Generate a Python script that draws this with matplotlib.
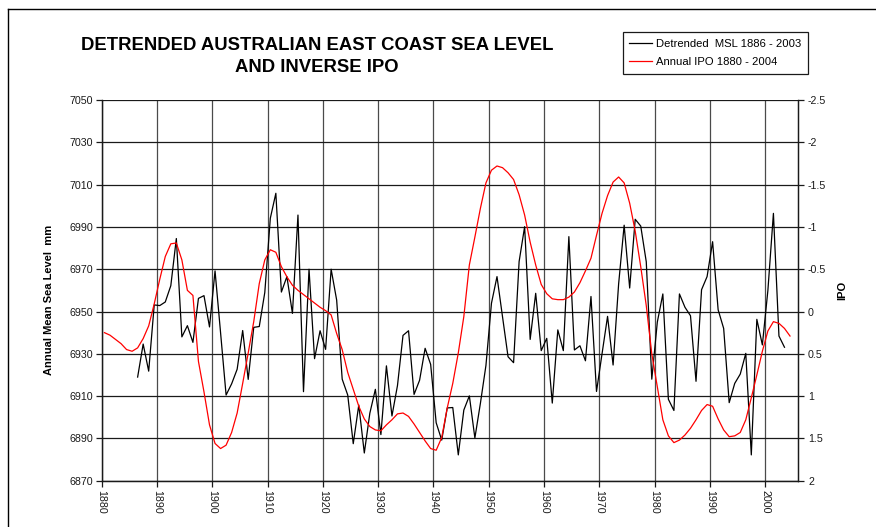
import matplotlib
matplotlib.use("Agg")
import matplotlib.pyplot as plt
from matplotlib.lines import Line2D
import numpy as np

plt.rcParams['font.family'] = ['Liberation Sans', 'DejaVu Sans']

# ---------------- data ----------------
msl_years = list(range(1886, 2004))
msl_values = [
    6919.0, 6934.6, 6921.8, 6953.1, 6952.8, 6954.5, 6962.2, 6984.5, 6938.0, 6943.3,  # 1886-1895
    6935.4, 6956.2, 6957.5, 6942.7, 6969.2, 6940.0, 6910.5, 6915.8, 6922.7, 6941.0,  # 1896-1905
    6917.9, 6942.5, 6942.9, 6959.0, 6994.1, 7005.9, 6959.2, 6966.5, 6949.1, 6995.6,  # 1906-1915
    6912.1, 6970.0, 6927.7, 6940.9, 6932.1, 6970.0, 6955.4, 6918.0, 6910.5, 6887.5,  # 1916-1925
    6905.8, 6883.1, 6901.9, 6913.2, 6891.8, 6924.3, 6900.6, 6915.0, 6938.7, 6940.9,  # 1926-1935
    6910.8, 6917.5, 6932.6, 6925.0, 6897.4, 6889.2, 6904.4, 6904.6, 6882.2, 6903.4,  # 1936-1945
    6910.1, 6890.2, 6906.6, 6924.5, 6953.9, 6966.5, 6947.5, 6928.6, 6925.8, 6973.6,  # 1946-1955
    6990.1, 6936.8, 6958.6, 6931.5, 6937.3, 6906.7, 6941.3, 6931.5, 6985.4, 6931.8,  # 1956-1965
    6933.8, 6926.7, 6957.1, 6912.2, 6930.0, 6947.7, 6924.7, 6963.0, 6990.8, 6961.1,  # 1966-1975
    6993.6, 6990.4, 6973.5, 6918.0, 6945.0, 6958.3, 6908.5, 6903.2, 6958.3, 6952.0,  # 1976-1985
    6948.0, 6917.0, 6960.3, 6966.5, 6983.0, 6950.8, 6942.0, 6906.9, 6916.0, 6920.4,  # 1986-1995
    6930.2, 6882.2, 6946.3, 6934.2, 6960.0, 6996.4, 6938.4, 6933.1,                  # 1996-2003
]

ipo_years = list(range(1880, 2005))
ipo_values = [
    0.25, 0.28, 0.33, 0.38, 0.45, 0.47, 0.43, 0.32, 0.17, -0.09,      # 1880-1889
    -0.38, -0.65, -0.80, -0.81, -0.61, -0.25, -0.19, 0.59, 0.95, 1.34,  # 1890-1899
    1.56, 1.62, 1.58, 1.43, 1.20, 0.85, 0.49, 0.12, -0.33, -0.61,      # 1900-1909
    -0.73, -0.70, -0.53, -0.41, -0.31, -0.25, -0.20, -0.15, -0.10, -0.05,  # 1910-1919
    -0.01, 0.04, 0.26, 0.45, 0.72, 0.92, 1.12, 1.27, 1.36, 1.40,      # 1920-1929
    1.41, 1.34, 1.28, 1.21, 1.20, 1.24, 1.33, 1.43, 1.53, 1.62,      # 1930-1939
    1.64, 1.49, 1.14, 0.85, 0.49, 0.06, -0.55, -0.88, -1.22, -1.52,    # 1940-1949
    -1.67, -1.72, -1.70, -1.64, -1.56, -1.38, -1.14, -0.82, -0.55, -0.32,  # 1950-1959
    -0.21, -0.15, -0.14, -0.14, -0.17, -0.23, -0.34, -0.48, -0.63, -0.90,  # 1960-1969
    -1.16, -1.37, -1.53, -1.59, -1.52, -1.28, -0.95, -0.53, -0.07, 0.50,   # 1970-1979
    0.89, 1.28, 1.47, 1.55, 1.52, 1.46, 1.38, 1.28, 1.17, 1.10,      # 1980-1989
    1.12, 1.27, 1.40, 1.48, 1.47, 1.43, 1.28, 1.02, 0.75, 0.47,      # 1990-1999
    0.23, 0.12, 0.14, 0.20, 0.29,                                     # 2000-2004
]

x_tick_years = list(range(1880, 2001, 10))
left_ticks = list(range(6870, 7051, 20))
right_ticks = [-2.5, -2, -1.5, -1, -0.5, 0, 0.5, 1, 1.5, 2]
right_tick_labels = ["-2.5", "-2", "-1.5", "-1", "-0.5", "0", "0.5", "1", "1.5", "2"]

title_line1 = "DETRENDED AUSTRALIAN EAST COAST SEA LEVEL"
title_line2 = "AND INVERSE IPO"
msl_label = "Detrended  MSL 1886 - 2003"
ipo_label = "Annual IPO 1880 - 2004"

# ---------------- figure ----------------
W, H = 876, 527
fig = plt.figure(figsize=(W / 100, H / 100), dpi=100)
fig.patch.set_facecolor('white')

L, R, T, B = 101.7, 798.3, 100.0, 480.7
ax = fig.add_axes([L / W, 1 - B / H, (R - L) / W, (B - T) / H])
ax2 = ax.twinx()

# categories centred between ticks (Excel style)
msl_x = np.array(msl_years) + 0.5
ipo_x = np.array(ipo_years) + 0.5

ax.set_xlim(1880, 2006)
ax.set_ylim(6870, 7050)
ax2.set_ylim(2, -2.5)

ax.set_yticks(left_ticks)
ax.set_yticklabels([str(v) for v in left_ticks])
ax.set_xticks(x_tick_years)
ax.set_xticklabels([str(v) for v in x_tick_years], rotation=270)
ax2.set_yticks(right_ticks)
ax2.set_yticklabels(right_tick_labels)

ax.grid(axis='y', color='#1a1a1a', linewidth=0.9, zorder=0)
ax.grid(axis='x', color='#4a4a4a', linewidth=0.9, zorder=0)
ax.set_axisbelow(True)

for a in (ax, ax2):
    for s in a.spines.values():
        s.set_linewidth(0.9)
        s.set_color('#1a1a1a')
    a.spines['top'].set_visible(False)

ax.tick_params(axis='both', direction='out', length=4, width=0.9, labelsize=7.7,
               colors='#1a1a1a', pad=2)
ax.tick_params(axis='x', pad=3)
ax2.tick_params(axis='y', direction='out', length=4, width=0.9, labelsize=7.7,
                colors='#1a1a1a', pad=3)

ax.plot(msl_x, msl_values, color='black', linewidth=0.9, zorder=3)
ax2.plot(ipo_x, ipo_values, color='#ff0000', linewidth=0.9, zorder=3)

# titles / labels
fig.text(317 / W, 1 - 45 / H, title_line1,
         ha='center', va='center', fontsize=13.3, fontweight='bold')
fig.text(317 / W, 1 - 67 / H, title_line2,
         ha='center', va='center', fontsize=13.3, fontweight='bold')
fig.text(49 / W, 1 - 300 / H, "Annual Mean Sea Level  mm", rotation=90,
         ha='center', va='center', fontsize=8, fontweight='bold')
fig.text(842 / W, 1 - 290 / H, "IPO", rotation=90,
         ha='center', va='center', fontsize=8, fontweight='bold')

# legend
handles = [Line2D([], [], color='black', linewidth=0.9),
           Line2D([], [], color='#ff0000', linewidth=0.9)]
leg = fig.legend(handles, [msl_label, ipo_label], loc='upper left',
                 bbox_to_anchor=(622.7 / W, 1 - 32 / H), borderaxespad=0,
                 frameon=True, fancybox=False, edgecolor='#1a1a1a', framealpha=1,
                 fontsize=8.1, handlelength=2.0, handletextpad=0.4,
                 borderpad=0.6, labelspacing=0.75)
leg.get_frame().set_linewidth(0.9)

# outer frame (left and top edges visible)
fig.add_artist(Line2D([7.5 / W, 7.5 / W], [0, 1 - 8.5 / H], transform=fig.transFigure,
                      color='black', linewidth=1.0))
fig.add_artist(Line2D([7.5 / W, 1], [1 - 8.5 / H, 1 - 8.5 / H], transform=fig.transFigure,
                      color='black', linewidth=1.0))

fig.savefig("out.png", dpi=100, facecolor='white')
